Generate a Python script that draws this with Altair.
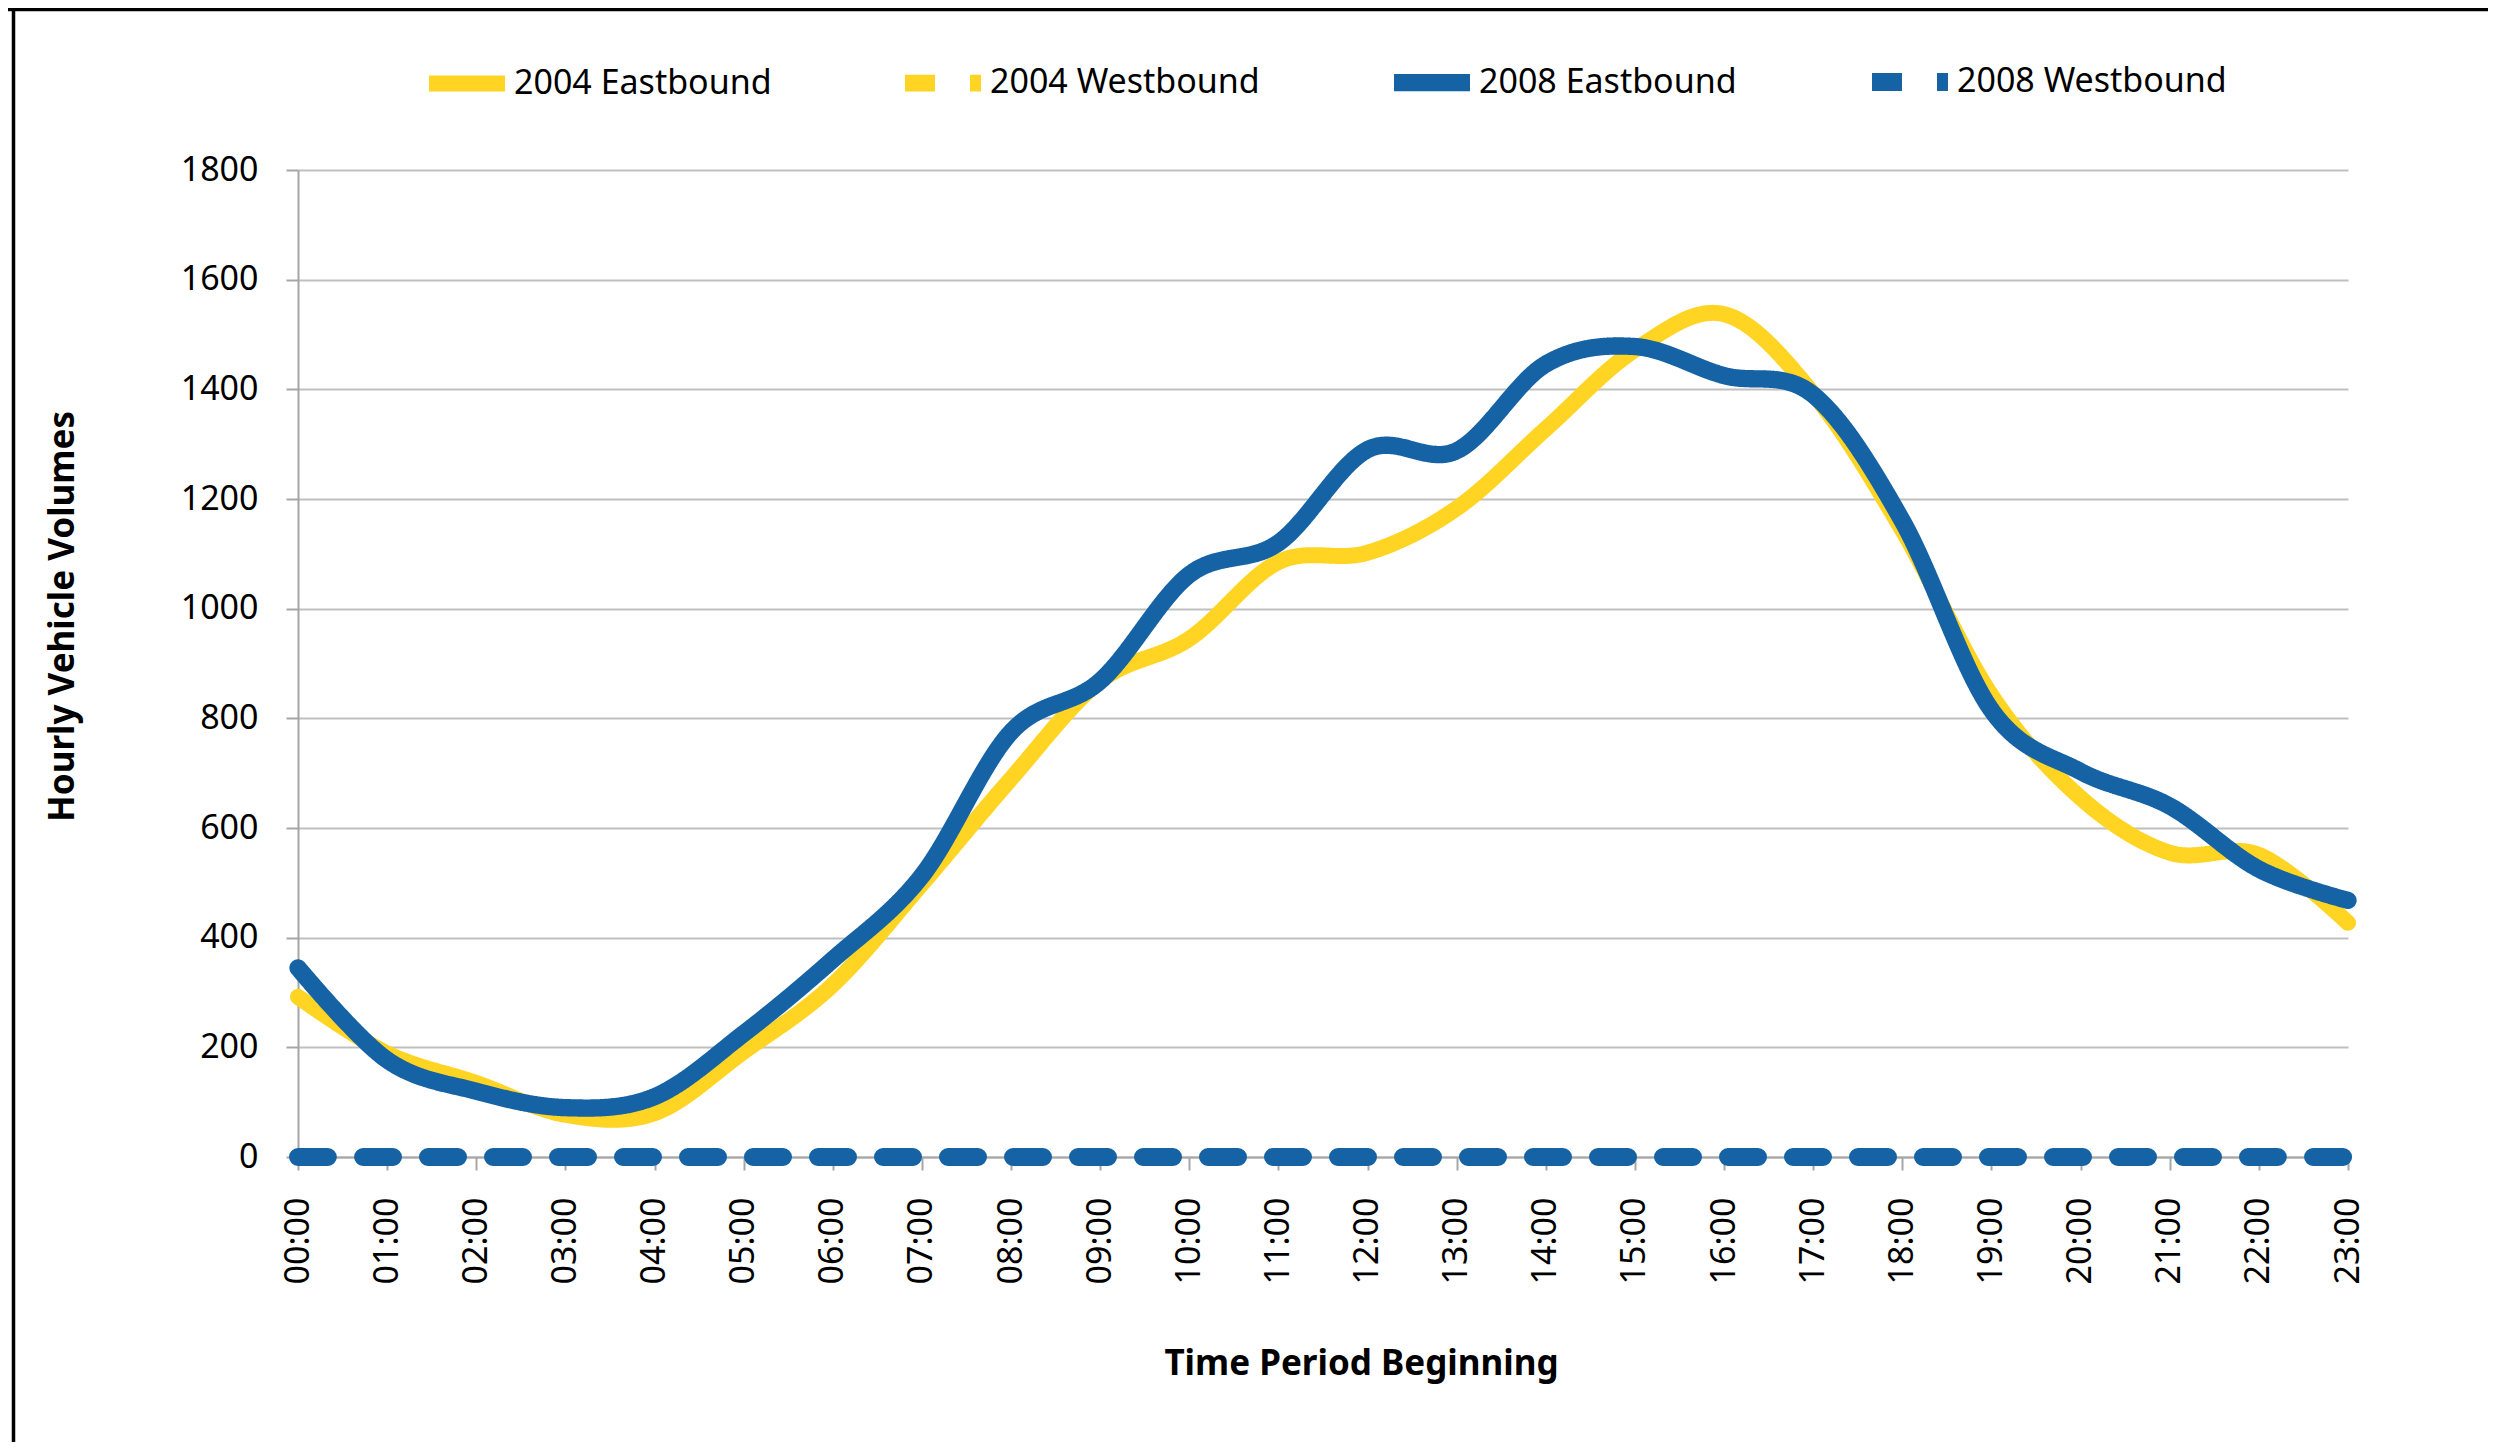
import altair as alt
import pandas as pd

hours = ["00:00", "01:00", "02:00", "03:00", "04:00", "05:00", "06:00", "07:00",
         "08:00", "09:00", "10:00", "11:00", "12:00", "13:00", "14:00", "15:00",
         "16:00", "17:00", "18:00", "19:00", "20:00", "21:00", "22:00", "23:00"]

eb_2004 = [292, 189, 135, 77, 80, 192, 314, 498, 690, 868, 945, 1085,
           1102, 1183, 1328, 1472, 1537, 1392, 1143, 842, 655, 555, 551, 427]
wb_2004 = [0] * 24
eb_2008 = [345, 177, 120, 90, 110, 225, 360, 513, 775, 868, 1062, 1120,
           1290, 1288, 1446, 1478, 1425, 1390, 1160, 815, 703, 640, 525, 468]
wb_2008 = [0] * 24

series_names = ["2004 Eastbound", "2004 Westbound", "2008 Eastbound", "2008 Westbound"]
series_values = [eb_2004, wb_2004, eb_2008, wb_2008]
y_ticks = [0, 200, 400, 600, 800, 1000, 1200, 1400, 1600, 1800]

YELLOW = "#FFD422"
BLUE = "#1562A4"

rows = []
for name, vals in zip(series_names, series_values):
    for h, v in zip(hours, vals):
        rows.append({"time": h, "series": name, "volume": v})
df = pd.DataFrame(rows)

legend_opts = dict(title=None, orient="none", direction="horizontal",
                   columns=4, legendX=122, legendY=-135,
                   symbolType="stroke", symbolSize=5776,
                   symbolStrokeWidth=17, labelOffset=0,
                   columnPadding=99, padding=0,
                   labelFont="Noto Sans", labelFontSize=34,
                   labelColor="#000000", labelLimit=400)

lines = alt.Chart(df).mark_line(
    interpolate="cardinal", strokeCap="round", strokeJoin="round"
).encode(
    x=alt.X("time:N", sort=hours, scale=alt.Scale(type="point", padding=0),
            axis=alt.Axis(title="Time Period Beginning", labelAngle=270,
                          grid=False, tickSize=13, labelPadding=27,
                          titleX=1063, titleY=217, titleBaseline="alphabetic",
                          titleAlign="center")),
    y=alt.Y("volume:Q", scale=alt.Scale(domain=[0, 1800], nice=False),
            axis=alt.Axis(title="Hourly Vehicle Volumes", values=y_ticks, format="d",
                          grid=True, tickSize=12, labelPadding=28,
                          titleAngle=270, titleX=-236, titleY=446,
                          titleAlign="center", titleBaseline="middle")),
    color=alt.Color("series:N", sort=series_names,
                    scale=alt.Scale(domain=series_names,
                                    range=[YELLOW, YELLOW, BLUE, BLUE]),
                    legend=alt.Legend(**legend_opts)),
    strokeDash=alt.StrokeDash("series:N", sort=series_names,
                              scale=alt.Scale(domain=series_names,
                                              range=[[1, 0], [30, 35], [1, 0], [30, 35]]),
                              legend=alt.Legend(**legend_opts)),
    strokeWidth=alt.StrokeWidth("series:N", sort=series_names,
                                scale=alt.Scale(domain=series_names,
                                                range=[16, 18, 16, 18]),
                                legend=None),
    order=alt.Order("time:N"),
)

frame_df = pd.DataFrame({"k": [0]})
top_border = alt.Chart(frame_df).mark_rule(color="#000000", strokeWidth=3.5).encode(
    x=alt.value(-290), x2=alt.value(2190), y=alt.value(-160.5))
left_border = alt.Chart(frame_df).mark_rule(color="#000000", strokeWidth=3.5).encode(
    x=alt.value(-284.5), y=alt.value(-162), y2=alt.value(1275))

chart = alt.layer(top_border, left_border, lines).properties(
    width=2050, height=987,
    padding={"left": 290, "top": 162, "right": 140, "bottom": 285},
    autosize=alt.AutoSizeParams(type="none"),
    background="#FFFFFF",
).configure_view(stroke=None).configure_axis(
    labelFont="Noto Sans", labelFontSize=34, labelColor="#000000",
    titleFont="Noto Sans", titleFontSize=35, titleFontWeight="bold", titleColor="#000000",
    gridColor="#BFBFBF", gridWidth=2,
    domainColor="#A6A6A6", domainWidth=2,
    tickColor="#A6A6A6", tickWidth=2,
)

chart.save("out.html", embed_options={"renderer": "svg", "actions": False})
